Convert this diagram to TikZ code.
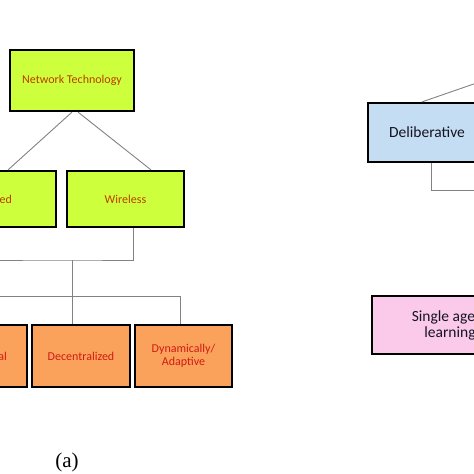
\documentclass[tikz,border=0pt]{standalone}
\usepackage{xcolor}
\usepackage{fontspec}
\setmainfont{Carlito}
\setsansfont{Carlito}
\newfontfamily\capfont{Liberation Serif}
\usepackage{tikz}
\usetikzlibrary{positioning}

\definecolor{limefill}{RGB}{206,255,60}
\definecolor{orangefill}{RGB}{250,162,92}
\definecolor{bluefill}{RGB}{197,221,242}
\definecolor{pinkfill}{RGB}{251,201,234}
\definecolor{limetext}{RGB}{190,60,0}
\definecolor{orangetext}{RGB}{210,26,16}
\definecolor{darktext}{RGB}{20,20,35}
\definecolor{linkgray}{RGB}{130,130,130}

\tikzset{
  box/.style={draw=black, line width=2.2pt, inner sep=0pt, align=center},
  greenbox/.style={box, fill=limefill, text=limetext, font=\fontsize{12}{13}\selectfont},
  orangebox/.style={box, fill=orangefill, text=orangetext, font=\fontsize{12}{13}\selectfont},
  bluebox/.style={box, fill=bluefill, text=darktext, font=\fontsize{15.5}{16}\selectfont},
  pinkbox/.style={box, fill=pinkfill, text=darktext, font=\fontsize{15.5}{16}\selectfont},
  link/.style={draw=linkgray, line width=0.9pt}
}

\begin{document}
\begin{tikzpicture}[x=1pt, y=-1pt]
    \useasboundingbox (0,0) rectangle (474,474);
    \clip (0,0) rectangle (474,474);

    % left tree
    \node[greenbox, minimum width=124pt, minimum height=61pt] (net) at (72,80.5) {Network Technology};
    \node[greenbox, minimum width=118pt, minimum height=56pt] (wired) at (-3,199) {Wired};
    \node[greenbox, minimum width=117pt, minimum height=56pt] (wireless) at (125.5,199) {Wireless};
    \node[orangebox, minimum width=98pt, minimum height=62pt] (hier) at (-22,356) {Hierarchical};
    \node[orangebox, minimum width=98pt, minimum height=62pt] (decen) at (81,356) {Decentralized};
    \node[orangebox, minimum width=97pt, minimum height=62pt] (dyn) at (183.5,356) {Dynamically/\\Adaptive};

    \coordinate (split) at (72,260);
    \coordinate (bar) at (180,296);
    \draw[link] (net.south) -- ([xshift=11pt]wired.north);
    \draw[link] ([xshift=6pt]net.south) -- ([xshift=25.5pt]wireless.north);
    \draw[link] ([xshift=7.5pt]wireless.south) |- (split) -- ++(-100,0);
    \draw[link] (split) -- (split |- decen.north);
    \draw[link] (hier.north) |- (bar) -- (bar |- dyn.north);

    % right tree
    \node[bluebox, minimum width=118pt, minimum height=59pt] (delib) at (427,132.5) {Deliberative};
    \node[pinkbox, minimum width=156pt, minimum height=58pt] (single) at (450,325) {Single agent\\learning};
    \draw[link] ([xshift=-5pt]delib.north) -- ++(104,-36);
    \draw[link] ([xshift=4pt]delib.south) |- ++(80,27);

    \node[font=\capfont\fontsize{21}{21}\selectfont] (cap) at (67,462) {(a)};
\end{tikzpicture}
\end{document}
